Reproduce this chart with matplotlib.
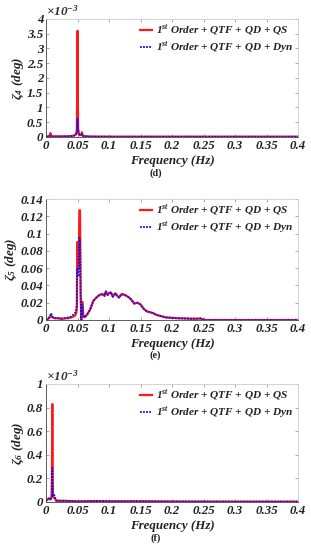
import matplotlib
matplotlib.use("Agg")
import matplotlib.pyplot as plt
from matplotlib.ticker import FixedLocator
from matplotlib.font_manager import FontProperties

plt.rcParams['font.family'] = ['Liberation Serif', 'DejaVu Serif']
plt.rcParams['font.weight'] = 'bold'
plt.rcParams['font.style'] = 'italic'
plt.rcParams['mathtext.fontset'] = 'custom'
plt.rcParams['mathtext.rm'] = 'Liberation Serif:italic:bold'
plt.rcParams['mathtext.it'] = 'Liberation Serif:italic:bold'
plt.rcParams['mathtext.bf'] = 'Liberation Serif:italic:bold'

# ---------------- data ----------------
# Panel (d): zeta_4 (x1e-3 deg)
d_freq_qs = [0, 0.004, 0.006, 0.007, 0.008, 0.010, 0.015, 0.02, 0.03, 0.04, 0.045, 0.047,
             0.048, 0.049, 0.0495, 0.050, 0.0505, 0.051, 0.052, 0.054, 0.056, 0.057, 0.058,
             0.06, 0.065, 0.07, 0.1, 0.2, 0.3, 0.4]
d_qs = [0.01, 0.02, 0.05, 0.13, 0.05, 0.02, 0.02, 0.02, 0.02, 0.03, 0.05, 0.08,
        0.10, 0.25, 1.5, 3.6, 1.5, 0.3, 0.1, 0.06, 0.08, 0.16, 0.06,
        0.03, 0.02, 0.015, 0.01, 0.01, 0.01, 0.01]
d_freq_dyn = [0, 0.004, 0.007, 0.010, 0.015, 0.02, 0.03, 0.04, 0.045, 0.047, 0.048, 0.049,
              0.0495, 0.050, 0.0505, 0.051, 0.052, 0.054, 0.056, 0.057, 0.058, 0.06, 0.065,
              0.07, 0.1, 0.2, 0.3, 0.4]
d_dyn = [0.01, 0.02, 0.04, 0.02, 0.02, 0.02, 0.02, 0.03, 0.05, 0.08, 0.12, 0.2,
         0.4, 0.62, 0.4, 0.25, 0.12, 0.06, 0.06, 0.1, 0.05, 0.03, 0.02,
         0.015, 0.01, 0.01, 0.01, 0.01]

# Panel (e): zeta_5 (deg)
e_freq_qs = [0, 0.003, 0.006, 0.008, 0.010, 0.015, 0.02, 0.025, 0.03, 0.035, 0.04, 0.043,
             0.046, 0.048, 0.049, 0.0495, 0.0505, 0.0515, 0.052, 0.053, 0.054, 0.055, 0.056,
             0.057, 0.058, 0.059, 0.061, 0.065, 0.07, 0.075, 0.08, 0.085, 0.09, 0.093,
             0.095, 0.098, 0.1, 0.103, 0.106, 0.11, 0.113, 0.116, 0.12, 0.125, 0.13, 0.135,
             0.14, 0.145, 0.15, 0.155, 0.16, 0.165, 0.17, 0.175, 0.18, 0.185, 0.19, 0.2,
             0.21, 0.22, 0.23, 0.24, 0.245, 0.25, 0.253, 0.3, 0.4]
e_qs = [0.0, 0.001, 0.003, 0.005, 0.003, 0.002, 0.002, 0.001, 0.002, 0.002, 0.003, 0.004,
        0.005, 0.008, 0.015, 0.09, 0.09, 0.06, 0.07, 0.127, 0.127, 0.03, 0.0,
        0.021, 0.021, 0.006, 0.003, 0.006, 0.012, 0.022, 0.026, 0.029, 0.030, 0.028,
        0.033, 0.029, 0.031, 0.032, 0.027, 0.031, 0.028, 0.026, 0.030, 0.029, 0.027, 0.024,
        0.019, 0.020, 0.018, 0.013, 0.010, 0.009, 0.008, 0.006, 0.005, 0.004, 0.003, 0.0025,
        0.002, 0.0018, 0.0015, 0.0015, 0.0018, 0.0005, 0.0, 0.0, 0.0]
e_freq_dyn = [0, 0.003, 0.006, 0.008, 0.010, 0.015, 0.02, 0.025, 0.03, 0.035, 0.04, 0.043,
              0.046, 0.048, 0.049, 0.0495, 0.0505, 0.0515, 0.052, 0.053, 0.054, 0.055, 0.056,
              0.057, 0.058, 0.059, 0.061, 0.065, 0.07, 0.075, 0.08, 0.085, 0.09, 0.093,
              0.095, 0.098, 0.1, 0.103, 0.106, 0.11, 0.113, 0.116, 0.12, 0.125, 0.13, 0.135,
              0.14, 0.145, 0.15, 0.155, 0.16, 0.165, 0.17, 0.175, 0.18, 0.185, 0.19, 0.2,
              0.21, 0.22, 0.23, 0.24, 0.245, 0.25, 0.253, 0.3, 0.4]
e_dyn = [0.0, 0.001, 0.004, 0.008, 0.004, 0.002, 0.002, 0.002, 0.002, 0.003, 0.004, 0.006,
         0.008, 0.012, 0.018, 0.06, 0.058, 0.05, 0.07, 0.095, 0.093, 0.03, 0.0,
         0.018, 0.017, 0.006, 0.003, 0.006, 0.012, 0.022, 0.026, 0.029, 0.030, 0.028,
         0.033, 0.029, 0.031, 0.032, 0.027, 0.031, 0.028, 0.026, 0.030, 0.029, 0.027, 0.024,
         0.019, 0.020, 0.018, 0.013, 0.010, 0.009, 0.008, 0.006, 0.005, 0.004, 0.003, 0.0025,
         0.002, 0.0018, 0.0015, 0.0015, 0.0018, 0.0005, 0.0, 0.0, 0.0]

# Panel (f): zeta_6 (x1e-3 deg)
f_freq_qs = [0, 0.004, 0.007, 0.009, 0.0095, 0.010, 0.0105, 0.011, 0.012, 0.014, 0.016,
             0.02, 0.03, 0.05, 0.08, 0.1, 0.15, 0.2, 0.3, 0.4]
f_qs = [0.01, 0.03, 0.02, 0.05, 0.3, 0.83, 0.3, 0.06, 0.04, 0.03, 0.01,
        0.01, 0.01, 0.005, 0.008, 0.006, 0.006, 0.004, 0.003, 0.003]
f_freq_dyn = [0, 0.004, 0.007, 0.009, 0.0095, 0.010, 0.0105, 0.011, 0.012, 0.013, 0.015,
              0.017, 0.02, 0.03, 0.05, 0.08, 0.1, 0.15, 0.2, 0.3, 0.4]
f_dyn = [0.01, 0.03, 0.02, 0.04, 0.12, 0.29, 0.12, 0.05, 0.05, 0.06, 0.03,
         0.015, 0.01, 0.01, 0.005, 0.008, 0.006, 0.006, 0.004, 0.003, 0.003]

x_ticks = [0, 0.05, 0.1, 0.15, 0.2, 0.25, 0.3, 0.35, 0.4]
x_ticklabels = ['0', '0.05', '0.1', '0.15', '0.2', '0.25', '0.3', '0.35', '0.4']
label_qs = r'1$^{\rm st}$ Order + QTF + QD + QS'
label_dyn = r'1$^{\rm st}$ Order + QTF + QD + Dyn'

panels = [
    dict(fq=d_freq_qs, q=d_qs, fd=d_freq_dyn, d=d_dyn, ylim=4,
         yticks=[0, 0.5, 1, 1.5, 2, 2.5, 3, 3.5, 4],
         yticklabels=['0', '0.5', '1', '1.5', '2', '2.5', '3', '3.5', '4'],
         ylabel=r'$\zeta_4$ (deg)', tag='(d)', exp=True,
         pos=[46/311, 1-137/550, 252/311, 118/550], tagy=1-173/550),
    dict(fq=e_freq_qs, q=e_qs, fd=e_freq_dyn, d=e_dyn, ylim=0.14,
         yticks=[0, 0.02, 0.04, 0.06, 0.08, 0.1, 0.12, 0.14],
         yticklabels=['0', '0.02', '0.04', '0.06', '0.08', '0.1', '0.12', '0.14'],
         ylabel=r'$\zeta_5$ (deg)', tag='(e)', exp=False,
         pos=[46/311, 1-320/550, 252/311, 121/550], tagy=1-355/550),
    dict(fq=f_freq_qs, q=f_qs, fd=f_freq_dyn, d=f_dyn, ylim=1,
         yticks=[0, 0.2, 0.4, 0.6, 0.8, 1],
         yticklabels=['0', '0.2', '0.4', '0.6', '0.8', '1'],
         ylabel=r'$\zeta_6$ (deg)', tag='(f)', exp=True,
         pos=[46/311, 1-502/550, 252/311, 118/550], tagy=1-538/550),
]

def fp(size, style='italic'):
    return FontProperties(family='Liberation Serif', weight='bold', style=style, size=size)

fig = plt.figure(figsize=(3.11, 5.5), dpi=100)
for p in panels:
    ax = fig.add_axes(p['pos'])
    ax.plot(p['fq'], p['q'], color='#ff1a1a', lw=1.6, label=label_qs)
    ax.plot(p['fd'], p['d'], color='#1010ee', lw=1.3, ls=(0, (1, 0.7)), label=label_dyn)
    ax.set_xlim(0, 0.4)
    ax.set_ylim(0, p['ylim'])
    ax.xaxis.set_major_locator(FixedLocator(x_ticks))
    ax.set_xticklabels(x_ticklabels, fontproperties=fp(9.3))
    ax.yaxis.set_major_locator(FixedLocator(p['yticks']))
    ax.set_yticklabels(p['yticklabels'], fontproperties=fp(9.3))
    ax.tick_params(direction='in', length=2.5, width=0.6, pad=2,
                   top=True, right=True, color='#999999', labelcolor='#222222')
    for s in ['top', 'right']:
        ax.spines[s].set_color('#cccccc')
        ax.spines[s].set_linewidth(0.6)
    for s in ['left', 'bottom']:
        ax.spines[s].set_color('#444444')
        ax.spines[s].set_linewidth(0.6)
    ax.set_xlabel('Frequency (Hz)', fontproperties=fp(9.4), labelpad=2.5, color='#222222')
    ax.set_ylabel(p['ylabel'], fontproperties=fp(9.5), labelpad=1, color='#222222')
    leg = ax.legend(loc='upper right', frameon=False, prop=fp(8.1), handlelength=1.1,
                    handletextpad=0.3, borderaxespad=0.05, labelspacing=0.3)
    for t in leg.get_texts():
        t.set_color('#222222')
    if p['exp']:
        ax.text(0.0, 1.0, r'$\times 10^{-3}$', transform=ax.transAxes,
                fontproperties=fp(9.5), color='#333333', ha='left', va='bottom')
    fig.text(0.5, p['tagy'], p['tag'], fontproperties=fp(7.3, 'normal'),
             ha='center', va='center', color='#222222')

fig.savefig('out.png', dpi=100)
